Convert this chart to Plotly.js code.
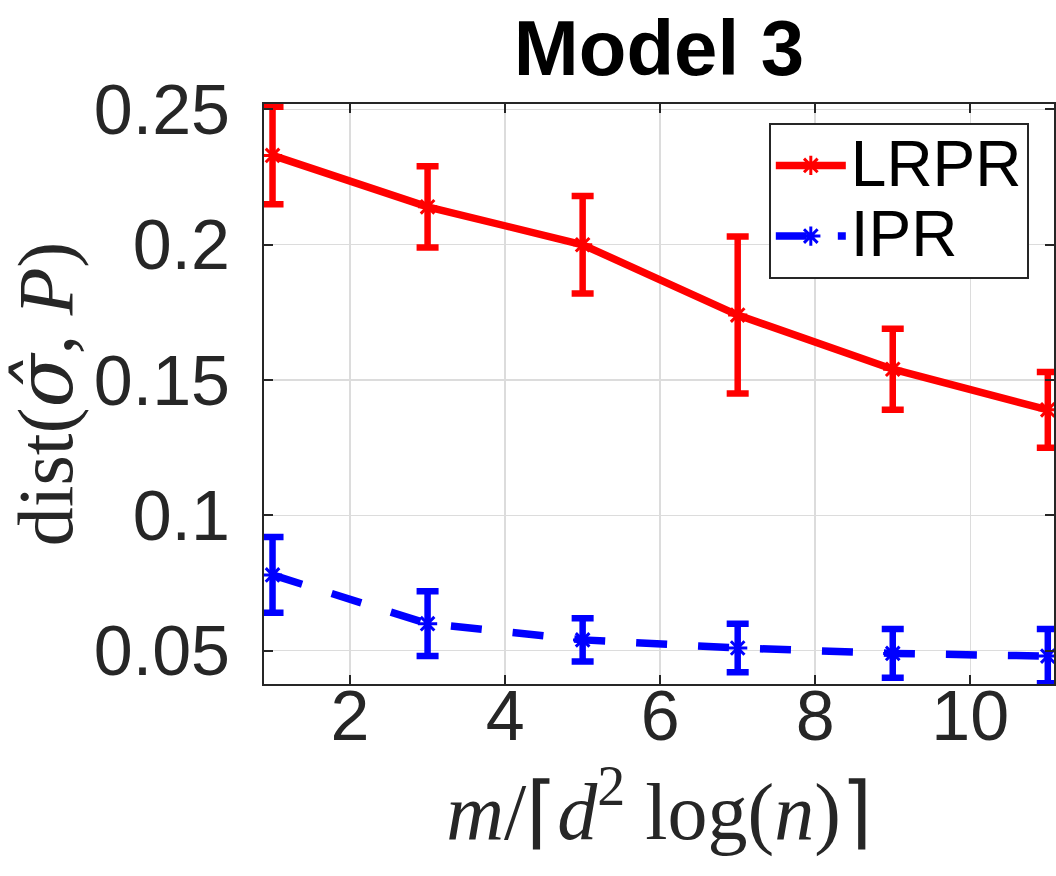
<!DOCTYPE html>
<html>
<head>
<meta charset="utf-8">
<script src="https://cdn.plot.ly/plotly-3.0.1.min.js"></script>
<style>
  html, body { margin: 0; padding: 0; background: #fff; }
  #chart { width: 1056px; height: 876px; }
</style>
</head>
<body>
<div id="chart"></div>
<script>
// values
var xVals = [1, 3, 5, 7, 9, 11];
var lrprMean = [0.233, 0.214, 0.200, 0.174, 0.154, 0.139];
var lrprErr = [0.018, 0.015, 0.018, 0.029, 0.015, 0.014];
var iprMean = [0.078, 0.060, 0.054, 0.051, 0.049, 0.048];
var iprErr = [0.014, 0.012, 0.008, 0.009, 0.009, 0.010];
var seriesNames = ['LRPR', 'IPR'];
var xTicks = [2, 4, 6, 8, 10];
var yTicks = [0.05, 0.1, 0.15, 0.2, 0.25];
var yTickText = ['0.05', '0.1', '0.15', '0.2', '0.25'];

var axisColor = '#262626';
var gridColor = '#dcdcdc';
var sans = 'Liberation Sans, Arial, Helvetica, sans-serif';
var serif = 'Liberation Serif, Times New Roman, serif';

function makeTrace(name, y, err, color, dash){
	return {
		x: xVals,
		y: y,
		// bigger text inside a smaller legend font keeps the rows tight
		name: '<span style="font-size:64px">' + name + '</span>',
		type: 'scatter',
		mode: 'lines+markers',
		line: {color: color, width: 7.5, dash: dash},
		marker: {symbol: 'asterisk-open', size: 16, color: color, line: {color: color, width: 3}},
		error_y: {type: 'data', array: err, visible: true, color: color, thickness: 6.5, width: 11}
	};
}

var data = [
	makeTrace(seriesNames[0], lrprMean, lrprErr, '#ff0000', 'solid'),
	makeTrace(seriesNames[1], iprMean, iprErr, '#0000ff', '31px,31px')
];

var layout = {
	width: 1056,
	height: 876,
	margin: {l: 264, r: 2, t: 104, b: 192},
	paper_bgcolor: '#ffffff',
	plot_bgcolor: '#ffffff',
	showlegend: true,
	title: {
		text: '<b>Model 3</b>',
		font: {family: sans, size: 78, color: '#000000'},
		xref: 'paper', x: 0.5, xanchor: 'center',
		yref: 'container', y: 0.946, yanchor: 'middle'
	},
	xaxis: {
		range: [0.89, 11.08],
		tickvals: xTicks,
		ticks: 'inside', ticklen: 9, tickwidth: 2, tickcolor: axisColor,
		showline: true, linecolor: axisColor, linewidth: 2, mirror: 'ticks',
		showgrid: true, gridcolor: gridColor, gridwidth: 1.5,
		zeroline: false,
		tickfont: {family: sans, size: 70, color: axisColor},
		ticklabelstandoff: -30,
		title: {
			text: '<i>m</i>/⌈<i>d</i><sup>2</sup> log(<i>n</i>)⌉',
			font: {family: serif, size: 80, color: axisColor},
			standoff: 18
		}
	},
	yaxis: {
		range: [0.0377, 0.252],
		tickvals: yTicks,
		ticktext: yTickText,
		ticks: 'inside', ticklen: 9, tickwidth: 2, tickcolor: axisColor,
		showline: true, linecolor: axisColor, linewidth: 2, mirror: 'ticks',
		showgrid: true, gridcolor: gridColor, gridwidth: 1.5,
		zeroline: false,
		tickfont: {family: sans, size: 70, color: axisColor},
		ticklabelstandoff: 18,
		title: {
			text: 'dist(<span style="font-family:DejaVu Serif"><i>σ̂</i></span>, <i>P</i>)',
			font: {family: serif, size: 78, color: axisColor},
			standoff: 14
		}
	},
	legend: {
		x: 0.639, y: 0.967, xanchor: 'left', yanchor: 'top',
		bgcolor: '#ffffff', bordercolor: axisColor, borderwidth: 2,
		font: {family: sans, size: 52, color: '#000000'},
		itemwidth: 70,
		tracegroupgap: 0
	}
};

Plotly.newPlot('chart', data, layout, {displayModeBar: false, staticPlot: true});
</script>
</body>
</html>
